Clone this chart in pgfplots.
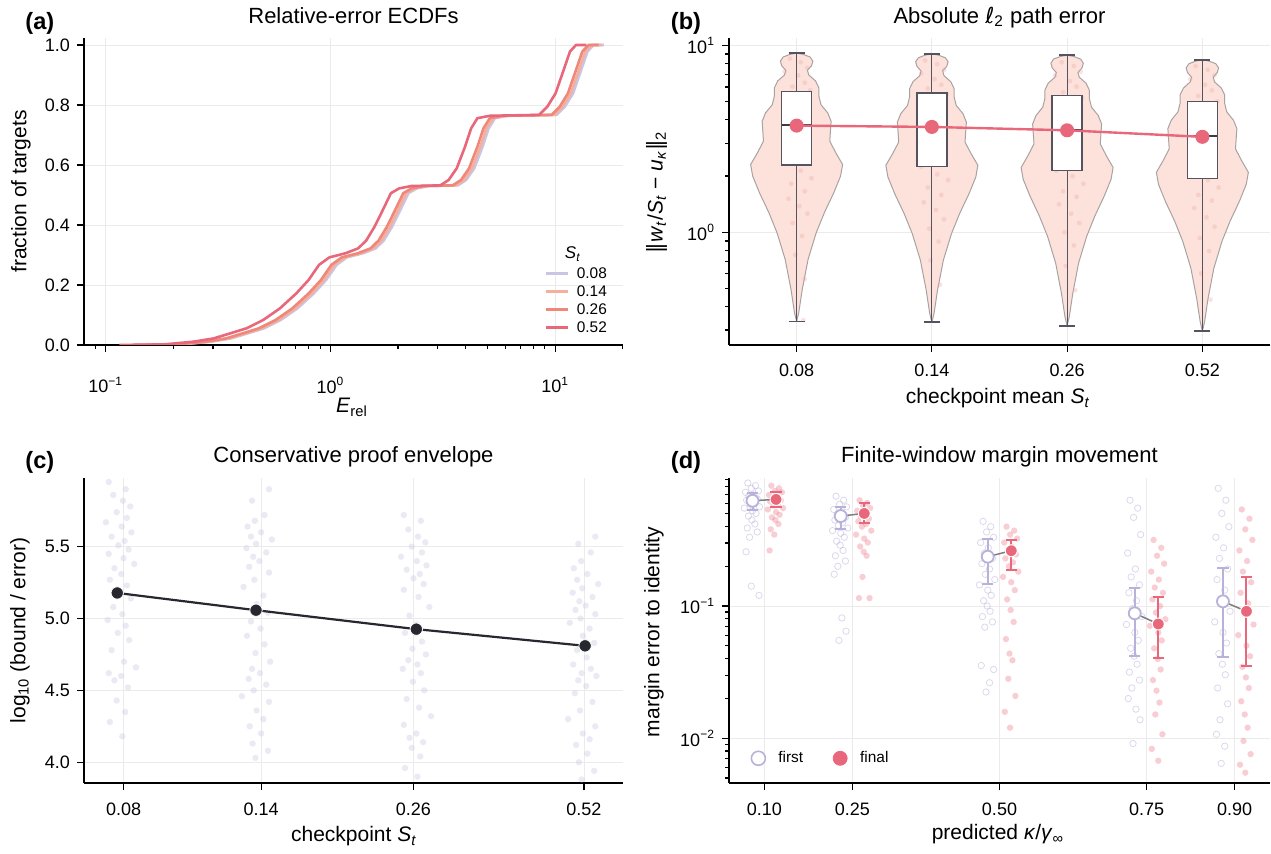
\documentclass[border=0pt]{standalone}
\usepackage{pgfplots}
\pgfplotsset{compat=1.18}
\usepackage{pgfplotstable}
\usepackage{fontspec}
\setmainfont{Liberation Sans}
\newfontfamily\dv{DejaVu Sans}
\newcommand\fT{\fontsize{11}{13}\selectfont}
\newcommand\fL{\fontsize{10.5}{12}\selectfont}
\newcommand\fK{\fontsize{9}{10}\selectfont}
\newcommand\fG{\fontsize{7.7}{9}\selectfont}
\newcommand\fP{\fontsize{11.8}{13}\selectfont\bfseries}
\newcommand\mi[1]{\textit{#1}}

\definecolor{lav}{HTML}{B7B2D9}
\definecolor{lavl}{HTML}{C9C5E3}
\definecolor{pinkc}{HTML}{E8677A}
\definecolor{salm}{HTML}{F5B09B}
\definecolor{coral}{HTML}{EF877B}
\definecolor{viof}{HTML}{FCE2DA}
\definecolor{vioe}{HTML}{A9A2A2}
\definecolor{boxe}{HTML}{55535F}
\definecolor{medc}{HTML}{3B3946}
\definecolor{gridc}{HTML}{EBEBEB}
\definecolor{dark}{HTML}{27272F}
\definecolor{greyl}{HTML}{7F7F7F}
\definecolor{cpt}{HTML}{CCC9E4}
\definecolor{bpt}{HTML}{F2A0A0}

% ---------- (a) ECDFs: log10(E_rel), fraction ----------
\pgfplotstableread{
lx F
-0.862 0
-0.662 0.002
-0.532 0.011
-0.442 0.022
-0.367 0.039
-0.294 0.056
-0.222 0.083
-0.147 0.122
-0.074 0.172
-0.019 0.217
0.027 0.267
0.073 0.292
0.146 0.306
0.201 0.322
0.237 0.348
0.274 0.394
0.311 0.45
0.347 0.506
0.384 0.522
0.439 0.530
0.567 0.532
0.604 0.550
0.640 0.589
0.677 0.661
0.704 0.722
0.732 0.756
0.787 0.764
1.007 0.767
1.043 0.794
1.08 0.839
1.116 0.917
1.144 0.978
1.171 1.0
1.217 1.0
}\ecA
\pgfplotstableread{
lx F
-0.872 0
-0.672 0.002
-0.542 0.011
-0.452 0.022
-0.377 0.039
-0.304 0.056
-0.232 0.083
-0.157 0.122
-0.084 0.172
-0.029 0.217
0.017 0.267
0.063 0.292
0.136 0.306
0.191 0.322
0.227 0.348
0.264 0.394
0.301 0.45
0.337 0.506
0.374 0.522
0.429 0.530
0.557 0.532
0.594 0.550
0.630 0.589
0.667 0.661
0.694 0.722
0.722 0.756
0.777 0.764
0.997 0.767
1.033 0.794
1.07 0.839
1.106 0.917
1.134 0.978
1.161 1.0
1.207 1.0
}\ecB
\pgfplotstableread{
lx F
-0.885 0
-0.685 0.002
-0.555 0.011
-0.465 0.022
-0.39 0.039
-0.317 0.056
-0.245 0.083
-0.17 0.122
-0.097 0.172
-0.042 0.217
0.004 0.267
0.05 0.292
0.123 0.306
0.178 0.322
0.214 0.348
0.251 0.394
0.288 0.45
0.324 0.506
0.361 0.522
0.416 0.530
0.544 0.532
0.581 0.550
0.617 0.589
0.654 0.661
0.681 0.722
0.709 0.756
0.764 0.764
0.984 0.767
1.02 0.794
1.057 0.839
1.093 0.917
1.121 0.978
1.148 1.0
1.194 1.0
}\ecC
\pgfplotstableread{
lx F
-0.94 0
-0.74 0.002
-0.61 0.011
-0.52 0.022
-0.445 0.039
-0.372 0.056
-0.30 0.083
-0.225 0.122
-0.152 0.172
-0.097 0.217
-0.051 0.267
-0.005 0.292
0.068 0.306
0.123 0.322
0.159 0.348
0.196 0.394
0.233 0.45
0.269 0.506
0.306 0.522
0.361 0.530
0.489 0.532
0.526 0.550
0.562 0.589
0.599 0.661
0.626 0.722
0.654 0.756
0.709 0.764
0.929 0.767
0.965 0.794
1.002 0.839
1.038 0.917
1.066 0.978
1.093 1.0
1.139 1.0
}\ecD

% ---------- (b) violins: half width w, log10 values per checkpoint ----------
\pgfplotstableread{
w a b c d
0 0.959 0.956 0.948 0.924
0.05 0.952 0.948 0.941 0.916
0.10 0.938 0.934 0.927 0.902
0.12 0.916 0.913 0.905 0.880
0.11 0.891 0.888 0.880 0.855
0.08 0.867 0.863 0.855 0.830
0.09 0.842 0.838 0.830 0.805
0.14 0.810 0.806 0.798 0.772
0.165 0.772 0.768 0.760 0.735
0.165 0.728 0.724 0.715 0.690
0.18 0.683 0.679 0.670 0.645
0.23 0.639 0.635 0.625 0.600
0.255 0.594 0.590 0.580 0.555
0.25 0.541 0.537 0.527 0.501
0.245 0.488 0.483 0.473 0.447
0.29 0.425 0.421 0.410 0.384
0.34 0.363 0.359 0.347 0.321
0.325 0.301 0.296 0.284 0.258
0.275 0.212 0.207 0.195 0.168
0.205 0.105 0.100 0.087 0.060
0.145 -0.002 -0.007 -0.021 -0.048
0.085 -0.144 -0.149 -0.164 -0.192
0.042 -0.304 -0.309 -0.326 -0.354
0.016 -0.429 -0.434 -0.452 -0.480
0 -0.477 -0.482 -0.500 -0.529
}\vio
\pgfplotstableread{
x ly
-0.05 0.93
0.03 0.91
0.08 0.88
-0.09 0.86
0.01 0.84
0.06 0.80
-0.03 0.78
0.10 0.76
-0.07 0.72
0.02 0.69
0.05 0.65
-0.02 0.62
0.09 0.58
-0.10 0.55
0.04 0.51
-0.05 0.47
0.07 0.44
0.00 0.40
-0.08 0.37
0.03 0.33
0.11 0.29
-0.04 0.26
0.06 0.22
-0.06 0.18
0.02 0.14
0.08 0.10
-0.03 0.05
0.04 -0.02
-0.01 -0.12
0.06 -0.25
0.05 -0.47
0.95 0.92
1.04 0.90
1.09 0.87
0.92 0.85
1.02 0.82
1.07 0.79
0.97 0.77
1.11 0.74
0.93 0.71
1.03 0.68
1.06 0.64
0.98 0.61
1.10 0.57
0.90 0.53
1.05 0.50
0.96 0.46
1.08 0.43
1.01 0.39
0.92 0.35
1.04 0.31
1.12 0.28
0.97 0.24
1.07 0.20
0.94 0.16
1.03 0.12
1.09 0.07
0.98 0.02
1.05 -0.05
0.99 -0.15
1.06 -0.28
1.96 0.91
2.05 0.89
2.10 0.86
1.91 0.84
2.02 0.81
2.07 0.78
1.97 0.75
2.11 0.72
1.93 0.69
2.03 0.66
2.06 0.62
1.98 0.59
2.09 0.55
1.90 0.52
2.04 0.48
1.95 0.44
2.08 0.41
2.01 0.37
1.92 0.33
2.04 0.30
2.12 0.26
1.97 0.22
2.07 0.19
1.94 0.15
2.03 0.10
2.09 0.05
1.98 0.00
2.05 -0.07
1.99 -0.18
2.06 -0.31
2.95 0.89
3.04 0.87
3.09 0.84
2.91 0.82
3.02 0.79
3.07 0.76
2.97 0.73
3.11 0.70
2.93 0.67
3.03 0.64
3.06 0.60
2.98 0.57
3.10 0.53
2.90 0.50
3.05 0.46
2.96 0.42
3.08 0.39
3.01 0.35
2.92 0.31
3.04 0.28
3.12 0.24
2.97 0.20
3.07 0.17
2.94 0.13
3.03 0.08
3.09 0.03
2.98 -0.03
3.05 -0.10
2.99 -0.22
3.06 -0.36
}\bpts

% ---------- (c) jittered log10(bound/error) ----------
\pgfplotstableread{
dx y1 y2 y3 y4
-0.020 5.95 5.90 5.72 5.57
0.010 5.90 5.82 5.68 5.52
-0.012 5.86 5.72 5.62 5.46
0.005 5.82 5.68 5.57 5.40
0.018 5.78 5.64 5.53 5.35
-0.006 5.74 5.60 5.50 5.31
0.012 5.70 5.57 5.46 5.27
-0.025 5.67 5.55 5.43 5.24
0.003 5.64 5.52 5.40 5.21
0.020 5.60 5.49 5.37 5.18
-0.015 5.57 5.46 5.34 5.15
0.008 5.54 5.43 5.31 5.12
-0.003 5.51 5.40 5.28 5.09
0.015 5.48 5.36 5.24 5.06
-0.020 5.45 5.32 5.20 5.03
0.006 5.42 5.27 5.15 5.00
0.025 5.38 5.22 5.08 4.97
-0.010 5.35 5.16 5.02 4.93
0.002 5.31 5.10 4.96 4.88
-0.018 5.27 5.04 4.90 4.83
0.012 5.23 4.98 4.84 4.78
-0.005 5.19 4.93 4.79 4.73
0.019 5.14 4.88 4.75 4.68
-0.012 5.08 4.82 4.71 4.65
0.004 5.03 4.76 4.68 4.62
-0.022 4.99 4.70 4.65 4.60
0.010 4.95 4.65 4.62 4.57
-0.004 4.90 4.62 4.56 4.53
0.016 4.85 4.58 4.50 4.48
-0.015 4.78 4.54 4.44 4.42
0.007 4.70 4.50 4.38 4.36
0.028 4.66 4.46 4.32 4.30
-0.020 4.62 4.42 4.26 4.25
0.002 4.60 4.36 4.20 4.20
-0.010 4.57 4.30 4.17 4.16
0.014 4.52 4.25 4.14 4.12
-0.006 4.43 4.20 4.10 4.06
0.009 4.35 4.13 4.04 4.00
-0.018 4.28 4.08 3.96 3.94
0.004 4.18 4.03 3.90 3.88
}\cpts

% ---------- (d) margin error (log10) ----------
\pgfplotstableread{
x ly
0.072 -0.07
0.085 -0.09
0.078 -0.11
0.090 -0.13
0.068 -0.14
0.081 -0.16
0.074 -0.17
0.088 -0.19
0.070 -0.20
0.083 -0.22
0.076 -0.23
0.092 -0.25
0.066 -0.26
0.080 -0.28
0.086 -0.30
0.073 -0.32
0.079 -0.35
0.084 -0.38
0.071 -0.41
0.088 -0.44
0.075 -0.48
0.069 -0.59
0.078 -0.85
0.091 -0.92
0.222 -0.17
0.235 -0.20
0.228 -0.23
0.240 -0.25
0.218 -0.27
0.231 -0.29
0.224 -0.31
0.238 -0.33
0.220 -0.35
0.233 -0.37
0.226 -0.39
0.242 -0.41
0.216 -0.43
0.230 -0.45
0.236 -0.48
0.223 -0.51
0.229 -0.54
0.234 -0.58
0.221 -0.62
0.238 -0.66
0.225 -0.70
0.219 -0.76
0.232 -1.09
0.239 -1.19
0.227 -1.26
0.472 -0.36
0.485 -0.40
0.478 -0.44
0.490 -0.48
0.468 -0.52
0.481 -0.56
0.474 -0.60
0.488 -0.64
0.470 -0.68
0.483 -0.72
0.476 -0.76
0.492 -0.80
0.466 -0.84
0.480 -0.88
0.486 -0.92
0.473 -0.96
0.479 -1.00
0.484 -1.04
0.471 -1.08
0.488 -1.12
0.475 -1.16
0.469 -1.45
0.483 -1.58
0.477 -1.65
0.490 -1.48
0.722 -0.20
0.735 -0.26
0.728 -0.33
0.740 -0.46
0.718 -0.60
0.731 -0.72
0.724 -0.78
0.738 -0.84
0.720 -0.90
0.733 -0.96
0.726 -1.02
0.742 -1.08
0.716 -1.14
0.730 -1.20
0.736 -1.26
0.723 -1.32
0.729 -1.38
0.734 -1.44
0.721 -1.50
0.738 -1.56
0.725 -1.62
0.719 -1.70
0.732 -1.78
0.739 -1.86
0.727 -2.04
0.872 -0.11
0.885 -0.20
0.878 -0.30
0.890 -0.40
0.868 -0.48
0.881 -0.56
0.874 -0.64
0.888 -0.72
0.870 -0.80
0.883 -0.88
0.876 -0.96
0.892 -1.04
0.866 -1.12
0.880 -1.20
0.886 -1.28
0.873 -1.36
0.879 -1.44
0.884 -1.52
0.871 -1.62
0.888 -1.74
0.875 -1.86
0.869 -1.97
0.883 -2.06
0.877 -2.19
}\dfirst
\pgfplotstableread{
x ly
0.112 -0.09
0.125 -0.11
0.118 -0.13
0.130 -0.14
0.108 -0.16
0.121 -0.17
0.114 -0.19
0.128 -0.20
0.110 -0.21
0.123 -0.23
0.116 -0.24
0.132 -0.26
0.106 -0.27
0.120 -0.29
0.126 -0.31
0.113 -0.33
0.119 -0.35
0.124 -0.38
0.111 -0.42
0.117 -0.46
0.109 -0.58
0.262 -0.20
0.275 -0.22
0.268 -0.24
0.280 -0.26
0.258 -0.28
0.271 -0.30
0.264 -0.32
0.278 -0.34
0.260 -0.36
0.273 -0.38
0.266 -0.40
0.282 -0.43
0.256 -0.46
0.270 -0.49
0.276 -0.52
0.263 -0.55
0.269 -0.59
0.274 -0.62
0.267 -0.78
0.261 -0.94
0.279 -0.94
0.512 -0.40
0.525 -0.43
0.518 -0.46
0.530 -0.49
0.508 -0.52
0.521 -0.55
0.514 -0.58
0.528 -0.61
0.510 -0.64
0.523 -0.67
0.516 -0.70
0.532 -0.74
0.506 -0.78
0.520 -0.82
0.526 -0.88
0.513 -0.95
0.519 -1.03
0.524 -1.12
0.511 -1.25
0.517 -1.36
0.522 -1.41
0.515 -1.55
0.527 -1.68
0.509 -1.80
0.518 -1.92
0.762 -0.50
0.775 -0.56
0.768 -0.62
0.780 -0.68
0.758 -0.74
0.771 -0.80
0.764 -0.86
0.778 -0.90
0.760 -0.95
0.773 -1.00
0.766 -1.05
0.782 -1.10
0.756 -1.15
0.770 -1.20
0.776 -1.26
0.763 -1.32
0.769 -1.40
0.774 -1.48
0.761 -1.56
0.767 -1.64
0.772 -1.73
0.765 -1.82
0.777 -1.97
0.759 -2.08
0.770 -2.17
0.912 -0.27
0.925 -0.34
0.918 -0.42
0.930 -0.50
0.908 -0.58
0.921 -0.66
0.914 -0.74
0.928 -0.82
0.910 -0.90
0.923 -0.98
0.916 -1.06
0.932 -1.14
0.906 -1.22
0.920 -1.30
0.926 -1.38
0.913 -1.46
0.919 -1.54
0.924 -1.62
0.911 -1.72
0.917 -1.82
0.922 -1.92
0.915 -2.02
0.927 -2.12
0.909 -2.20
0.918 -2.26
}\dfinal
\pgfplotstableread{
x ly ep em
0.08 -0.204 0.055 0.071
0.23 -0.320 0.071 0.101
0.48 -0.627 0.131 0.207
0.73 -1.055 0.194 0.323
0.88 -0.965 0.250 0.418
}\dsumA
\pgfplotstableread{
x ly ep em
0.12 -0.194 0.058 0.055
0.27 -0.300 0.076 0.070
0.52 -0.582 0.081 0.146
0.77 -1.136 0.207 0.259
0.92 -1.040 0.262 0.413
}\dsumB

\pgfplotsset{
 base/.style={
  scale only axis, anchor=south west, enlargelimits=false,
  axis x line*=bottom, axis y line*=left,
  axis line style={line width=1pt, black},
  tick align=outside,
  major tick length=3.5pt, minor tick length=2pt,
  tick style={black, line width=0.6pt},
  grid=major, major grid style={gridc, line width=0.4pt},
  tick label style={font=\fK},
  xticklabel style={yshift=-2.5pt},
  clip marker paths=true,
 },
 ecdf/.style={line width=1.3pt, line join=round, mark=none},
 vio/.style={fill=viof, draw=vioe, line width=0.5pt, mark=none, forget plot},
 whisk/.style={boxe, line width=0.6pt, mark=none, forget plot},
 boxs/.style={draw=boxe, fill=white, line width=0.75pt, line cap=rect, mark=none, forget plot},
 meds/.style={medc, line width=1.1pt, mark=none, forget plot},
 dots/.style={only marks, mark=*, mark size=#1, forget plot},
}

\begin{document}
\begin{tikzpicture}
\path[use as bounding box] (0,0) rectangle (635.5pt,-427pt);

% ================= (a) =================
\begin{axis}[base, at={(42pt,-172.5pt)}, width=269.5pt, height=153.5pt,
  xmin=-1.097, xmax=1.302, ymin=0, ymax=1.0233,
  xtick={-1,0,1}, xticklabels={10\textsuperscript{−1},10\textsuperscript{0},10\textsuperscript{1}},
  xticklabel style={yshift=-6.5pt},
  minor xtick={-1.046,-0.699,-0.523,-0.398,-0.301,-0.222,-0.155,-0.097,-0.046,0.301,0.477,0.602,0.699,0.778,0.845,0.903,0.954,1.301},
  ytick={0,0.2,0.4,0.6,0.8,1.0}, yticklabels={0.0,0.2,0.4,0.6,0.8,1.0},
  legend style={at={(0.8534,0.2573)}, anchor=north west, draw=none, fill=none, inner sep=0pt,
    font=\fG, row sep=2.2pt, nodes={inner sep=0.5pt, text height=5.5pt, text depth=0.3pt}},
  legend cell align=left,
  legend image code/.code={\draw[#1, line width=1.5pt] (0pt,0pt) -- (11pt,0pt); \path[draw=none] (0pt,0pt) -- (15pt,0pt);},
]
\addplot[ecdf, lavl] table[x=lx, y=F] {\ecA}; \addlegendentry{0.08}
\addplot[ecdf, salm] table[x=lx, y=F] {\ecB}; \addlegendentry{0.14}
\addplot[ecdf, coral] table[x=lx, y=F] {\ecC}; \addlegendentry{0.26}
\addplot[ecdf, pinkc] table[x=lx, y=F] {\ecD}; \addlegendentry{0.52}
\end{axis}

% ================= (b) =================
\begin{axis}[base, at={(364.5pt,-172.5pt)}, width=270.5pt, height=153.5pt,
  xmin=-0.5, xmax=3.5, ymin=-0.603, ymax=1.040,
  xtick={0,1,2,3}, xticklabels={0.08,0.14,0.26,0.52},
  ytick={0,1}, yticklabels={10\textsuperscript{0},10\textsuperscript{1}},
  minor ytick={-0.523,-0.398,-0.301,-0.222,-0.155,-0.097,-0.046,0.301,0.477,0.602,0.699,0.778,0.845,0.903,0.954},
]
\addplot[vio] table[x expr={0+\thisrow{w}}, y=a] {\vio};
\addplot[vio] table[x expr={0-\thisrow{w}}, y=a] {\vio};
\addplot[vio] table[x expr={1+\thisrow{w}}, y=b] {\vio};
\addplot[vio] table[x expr={1-\thisrow{w}}, y=b] {\vio};
\addplot[vio] table[x expr={2+\thisrow{w}}, y=c] {\vio};
\addplot[vio] table[x expr={2-\thisrow{w}}, y=c] {\vio};
\addplot[vio] table[x expr={3+\thisrow{w}}, y=d] {\vio};
\addplot[vio] table[x expr={3-\thisrow{w}}, y=d] {\vio};
\addplot[dots=1.2pt, mark options={draw=bpt, fill=bpt, draw opacity=0, fill opacity=0.3}] table[x=x, y=ly] {\bpts};
% whiskers and caps
\addplot[whisk] coordinates {(0,-0.477) (0,0.959)};
\addplot[whisk] coordinates {(1,-0.482) (1,0.956)};
\addplot[whisk] coordinates {(2,-0.500) (2,0.948)};
\addplot[whisk] coordinates {(3,-0.529) (3,0.924)};
\addplot[whisk, line width=0.9pt] coordinates {(-0.06,-0.477) (0.06,-0.477)};
\addplot[whisk, line width=0.9pt] coordinates {(-0.06,0.959) (0.06,0.959)};
\addplot[whisk, line width=0.9pt] coordinates {(0.94,-0.482) (1.06,-0.482)};
\addplot[whisk, line width=0.9pt] coordinates {(0.94,0.956) (1.06,0.956)};
\addplot[whisk, line width=0.9pt] coordinates {(1.94,-0.500) (2.06,-0.500)};
\addplot[whisk, line width=0.9pt] coordinates {(1.94,0.948) (2.06,0.948)};
\addplot[whisk, line width=0.9pt] coordinates {(2.94,-0.529) (3.06,-0.529)};
\addplot[whisk, line width=0.9pt] coordinates {(2.94,0.924) (3.06,0.924)};
% boxes
\addplot[boxs] coordinates {(-0.11,0.359) (0.11,0.359) (0.11,0.754) (-0.11,0.754) (-0.11,0.359)};
\addplot[boxs] coordinates {(0.89,0.351) (1.11,0.351) (1.11,0.746) (0.89,0.746) (0.89,0.351)};
\addplot[boxs] coordinates {(1.89,0.331) (2.11,0.331) (2.11,0.731) (1.89,0.731) (1.89,0.331)};
\addplot[boxs] coordinates {(2.89,0.288) (3.11,0.288) (3.11,0.701) (2.89,0.701) (2.89,0.288)};
\addplot[meds] coordinates {(-0.11,0.573) (0.11,0.573)};
\addplot[meds] coordinates {(0.89,0.564) (1.11,0.564)};
\addplot[meds] coordinates {(1.89,0.546) (2.11,0.546)};
\addplot[meds] coordinates {(2.89,0.514) (3.11,0.514)};
% means
\addplot[pinkc, line width=1.2pt, mark=*, mark size=2.9pt, mark options={fill=pinkc, draw=pinkc}] coordinates {(0,0.571) (1,0.564) (2,0.546) (3,0.511)};
\end{axis}

% ================= (c) =================
\begin{axis}[base, at={(42pt,-391.75pt)}, width=269.5pt, height=152.75pt,
  xmin=-1.1667, xmax=-0.2151, ymin=3.852, ymax=5.978,
  xtick={-1.0969,-0.8539,-0.5850,-0.2840}, xticklabels={0.08,0.14,0.26,0.52},
  ytick={4.0,4.5,5.0,5.5}, yticklabels={4.0,4.5,5.0,5.5},
]
\addplot[dots=1.6pt, mark options={draw=cpt, fill=cpt, draw opacity=0, fill opacity=0.4}] table[x expr={\thisrow{dx}-1.103}, y=y1] {\cpts};
\addplot[dots=1.6pt, mark options={draw=cpt, fill=cpt, draw opacity=0, fill opacity=0.4}] table[x expr={-\thisrow{dx}-0.860}, y=y2] {\cpts};
\addplot[dots=1.6pt, mark options={draw=cpt, fill=cpt, draw opacity=0, fill opacity=0.4}] table[x expr={\thisrow{dx}-0.582}, y=y3] {\cpts};
\addplot[dots=1.6pt, mark options={draw=cpt, fill=cpt, draw opacity=0, fill opacity=0.4}] table[x expr={-\thisrow{dx}-0.284}, y=y4] {\cpts};
\addplot[dark, line width=1.1pt, mark=*, mark size=3.1pt, mark options={fill=dark, draw=white, line width=0.4pt}] coordinates {(-1.108,5.178) (-0.863,5.058) (-0.580,4.926) (-0.282,4.81)};
\end{axis}

% ================= (d) =================
\begin{axis}[base, at={(364.5pt,-391.75pt)}, width=270.5pt, height=152.75pt,
  xmin=0.04, xmax=0.96, ymin=-2.342, ymax=-0.032,
  xtick={0.1,0.25,0.5,0.75,0.9}, xticklabels={0.10,0.25,0.50,0.75,0.90},
  ytick={-2,-1}, yticklabels={10\textsuperscript{−2},10\textsuperscript{−1}},
  minor ytick={-2.301,-2.222,-2.155,-2.097,-2.046,-1.699,-1.523,-1.398,-1.301,-1.222,-1.155,-1.097,-1.046,-0.699,-0.523,-0.398,-0.301,-0.222,-0.155,-0.097,-0.046},
  legend columns=2,
  legend style={at={(0.0406,0.0825)}, anchor=west, draw=none, fill=none, inner sep=0pt,
    font=\fG, /tikz/every even column/.append style={column sep=13pt}},
  legend image code/.code={\draw[#1] plot coordinates {(0pt,0pt)}; \path[draw=none] (-3.5pt,0pt) -- (8pt,0pt);},
]
\addplot[dots=1.6pt, mark=o, mark options={draw=lav, line width=0.4pt, draw opacity=0.5}] table[x=x, y=ly] {\dfirst};
\addplot[dots=1.6pt, mark options={draw=pinkc, fill=pinkc, draw opacity=0, fill opacity=0.32}] table[x=x, y=ly] {\dfinal};
\addplot[draw=none, mark=none, forget plot, error bars/.cd, y dir=both, y explicit,
  error bar style={lav, line width=1pt}, error mark options={lav, line width=1pt, mark size=2.85pt, rotate=90}]
  table[x=x, y=ly, y error plus=ep, y error minus=em] {\dsumA};
\addplot[draw=none, mark=none, forget plot, error bars/.cd, y dir=both, y explicit,
  error bar style={pinkc, line width=1pt}, error mark options={pinkc, line width=1pt, mark size=2.85pt, rotate=90}]
  table[x=x, y=ly, y error plus=ep, y error minus=em] {\dsumB};
\addplot[greyl, line width=0.75pt, forget plot] coordinates {(0.08,-0.204) (0.12,-0.194)};
\addplot[greyl, line width=0.75pt, forget plot] coordinates {(0.23,-0.320) (0.27,-0.300)};
\addplot[greyl, line width=0.75pt, forget plot] coordinates {(0.48,-0.627) (0.52,-0.582)};
\addplot[greyl, line width=0.75pt, forget plot] coordinates {(0.73,-1.055) (0.77,-1.136)};
\addplot[greyl, line width=0.75pt, forget plot] coordinates {(0.88,-0.965) (0.92,-1.040)};
\addplot[only marks, mark=*, mark size=3pt, mark options={fill=white, draw=lav, line width=0.9pt}, forget plot] table[x=x, y=ly] {\dsumA};
\addplot[only marks, mark=*, mark size=3pt, mark options={fill=pinkc, draw=white, line width=0.5pt}, forget plot] table[x=x, y=ly] {\dsumB};
\addlegendimage{only marks, mark=*, mark size=3.5pt, mark options={fill=white, draw=lav, line width=0.8pt}}
\addlegendentry{first}
\addlegendimage{only marks, mark=*, mark size=3.5pt, mark options={fill=pinkc, draw=pinkc}}
\addlegendentry{final}
\end{axis}

% ================= texts =================
\node[font=\fT, anchor=base] at (176.75pt,-11.75pt) {Relative-error ECDFs};
\node[font=\fT, anchor=base] at (499.75pt,-11.75pt) {Absolute {\dv ℓ}\textsubscript{2} path error};
\node[font=\fT, anchor=base] at (176.75pt,-231.25pt) {Conservative proof envelope};
\node[font=\fT, anchor=base] at (499.75pt,-231.25pt) {Finite-window margin movement};
\node[font=\fP, anchor=base west, inner sep=0pt] at (12.5pt,-15pt) {(a)};
\node[font=\fP, anchor=base west, inner sep=0pt] at (335.25pt,-15pt) {(b)};
\node[font=\fP, anchor=base west, inner sep=0pt] at (12.5pt,-234.5pt) {(c)};
\node[font=\fP, anchor=base west, inner sep=0pt] at (335.25pt,-234.5pt) {(d)};
\node[font=\fL, rotate=90, inner sep=0pt] at (10.5pt,-95.75pt) {fraction of targets};
\node[font=\fL, rotate=90, inner sep=0pt] at (328.5pt,-96pt) {{\dv‖}\mi{w}\textsubscript{\mi{t}}/\mi{S}\textsubscript{\mi{t}} − \mi{u}\textsubscript{\mi{κ}}{\dv‖}\textsubscript{2}};
\node[font=\fL, rotate=90, inner sep=0pt] at (10pt,-315.25pt) {log\textsubscript{10} (bound / error)};
\node[font=\fL, rotate=90, inner sep=0pt] at (327pt,-316pt) {margin error to identity};
\node[font=\fL, anchor=base] at (176pt,-206.5pt) {\mi{E}\textsubscript{rel}};
\node[font=\fL, anchor=base] at (499pt,-202pt) {checkpoint mean \mi{S}\textsubscript{\mi{t}}};
\node[font=\fL, anchor=base] at (177pt,-421pt) {checkpoint \mi{S}\textsubscript{\mi{t}}};
\node[font=\fL, anchor=base] at (499pt,-420pt) {predicted \mi{κ}/\mi{γ}\textsubscript{∞}};
\node[font=\fontsize{8.5}{10}\selectfont, anchor=base] at (286.5pt,-129.5pt) {\mi{S}\textsubscript{\mi{t}}};
\end{tikzpicture}
\end{document}
